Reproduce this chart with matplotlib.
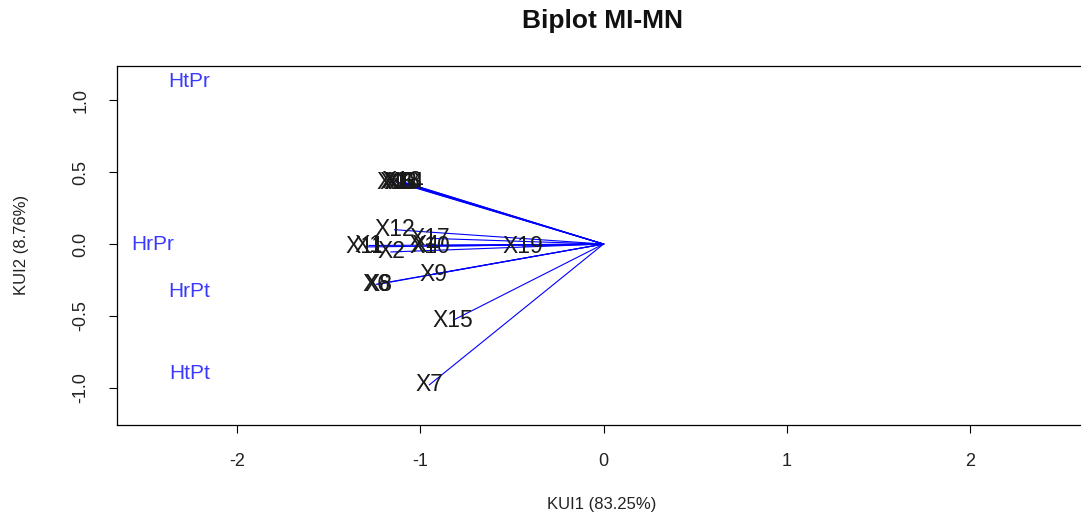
import matplotlib.pyplot as plt

# variable (arrow) labels and their coordinates
var_labels = ['X1', 'X2', 'X3', 'X4', 'X5', 'X6', 'X7', 'X8', 'X9', 'X10',
              'X11', 'X12', 'X13', 'X14', 'X15', 'X16', 'X17', 'X18', 'X19']
var_x = [-1.28, -1.16, -1.12, -0.97, -1.10, -1.24, -0.95, -1.23, -0.93, -0.95,
         -1.30, -1.14, -1.13, -1.09, -0.82, -1.11, -0.95, -1.10, -0.44]
var_y = [-0.01, -0.055, 0.43, -0.01, 0.43, -0.28, -0.98, -0.28, -0.21, -0.015,
         -0.02, 0.10, 0.43, 0.43, -0.53, 0.43, 0.04, 0.435, -0.015]

# observation labels
obs_labels = ['HtPr', 'HrPr', 'HrPt', 'HtPt']
obs_x = [-2.26, -2.46, -2.26, -2.26]
obs_y = [1.13, 0.0, -0.33, -0.90]

narrow = ['Liberation Sans Narrow', 'Liberation Sans', 'DejaVu Sans']
plt.rcParams['font.family'] = ['Liberation Sans', 'DejaVu Sans']

fig = plt.figure(figsize=(10.81, 5.17), dpi=100)
ax = fig.add_axes([117 / 1081, 1 - 425 / 517, (1090 - 117) / 1081, (425 - 66) / 517])

for x, y in zip(var_x, var_y):
    ax.plot([0, x], [0, y], color='#0000ff', lw=0.8)
for lab, x, y in zip(var_labels, var_x, var_y):
    ax.text(x, y, lab, color='#1a1a1a', fontsize=16.5, ha='center', va='center')
for lab, x, y in zip(obs_labels, obs_x, obs_y):
    ax.text(x, y, lab, color='#3a3aff', fontsize=15, ha='center', va='center')

ax.set_xlim(-2.655, 2.655)
ax.set_ylim(-1.26, 1.24)
ax.set_xticks([-2, -1, 0, 1, 2])
ax.set_yticks([-1.0, -0.5, 0.0, 0.5, 1.0])
ax.set_yticklabels(['-1.0', '-0.5', '0.0', '0.5', '1.0'], rotation=90, va='center')
ax.set_xticklabels(['-2', '-1', '0', '1', '2'])
for lbl in ax.get_xticklabels() + ax.get_yticklabels():
    lbl.set_family(narrow)
    lbl.set_fontsize(13)
    lbl.set_color('#222222')
ax.tick_params(direction='out', length=6, width=0.8, pad=14)
for s in ax.spines.values():
    s.set_linewidth(0.9)

fig.text(602 / 1081, 1 - 505 / 517, 'KUI1 (83.25%)', ha='center', va='center',
         fontsize=12, family=narrow, color='#222222')
fig.text(22 / 1081, 1 - 245 / 517, 'KUI2 (8.76%)', ha='center', va='center',
         rotation=90, fontsize=12, family=narrow, color='#222222')
fig.text(602 / 1081, 1 - 21 / 517, 'Biplot MI-MN', ha='center', va='center',
         fontsize=19, fontweight='bold', color='#111111')

fig.savefig('out.png', dpi=100)
